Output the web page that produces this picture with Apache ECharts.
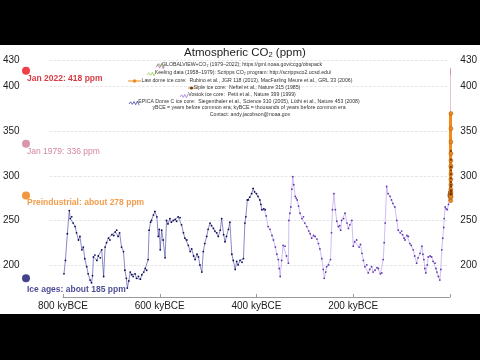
<!DOCTYPE html>
<html><head><meta charset="utf-8">
<script src="https://cdn.jsdelivr.net/npm/echarts@6/dist/echarts.min.js"></script>
<style>html,body{margin:0;padding:0;background:#fff}#c{width:480px;height:360px}</style>
</head><body><div id="c"></div>
<script>
// ---- tick labels ----
const yTicks = [200, 250, 300, 350, 400, 430];
const xTicks = [800, 600, 400, 200, 0];
const xTickLabels = [800, 600, 400, 200];

// ---- EPICA Dome C (kyBCE, ppm) ----
const epicaKy = [798,795,791,787,785,782,779,775,772,768,765,761,758,755,751,748,744,741,739,737,734,730,727,723,720,716,713,710,706,703,699,695,692,689,686,683,679,675,672,669,667,664,661,658,655,651,648,644,640,637,633,630,627,624,622,619,617,613,610,606,603,601,599,596,593,589,586,583,579,576,572,568,565,562,558,555,551,548,544,541,537,534,530,527,523,520,517,513,510,507,503,500,496,493,489,486,482,479,475,472,468,465,462,458,455,451,448,444,441,438,434,430,427,424,422,419,417,414,410,407,404,400,397,393,391,389,385,382];
const epicaPpm = [190,205,235,261,252,254,247,243,236,228,232,217,220,207,198,190,183,180,188,209,211,205,210,208,217,187,220,225,230,228,234,233,237,239,232,236,220,215,194,185,174,182,192,189,187,190,185,187,184,189,192,196,194,206,239,248,250,256,260,254,232,240,217,239,228,208,250,246,252,248,250,251,249,254,253,245,236,230,228,222,215,218,210,206,212,209,200,192,215,224,232,240,247,244,241,238,236,232,239,252,234,226,232,240,248,212,205,195,204,200,205,203,207,247,254,273,273,276,280,286,282,280,277,273,268,262,263,262];

// ---- Vostok (kyBCE, ppm) ----
const vostokKy = [384,380,376,372,368,365,361,358,355,353,351,348,345,341,338,334,333,331,329,327,325,323,320,318,316,313,310,306,303,300,296,292,289,286,282,279,275,272,269,265,262,260,257,255,251,247,245,243,240,237,234,231,228,226,224,220,217,213,210,207,203,200,197,193,188,185,182,179,176,172,169,166,162,159,155,151,148,144,141,138,136,134,131,128,124,121,118,114,110,107,103,100,98,95,93,89,86,83,80,76,73,69,66,62,58,56,54,52,50,47,45,41,38,35,31,29,27,24,21,19,17,15,13,12,10,8,5.5,3,1.4];
const vostokPpm = [262,255,243,240,233,228,220,212,206,196,187,205,222,221,210,202,250,258,265,285,299,290,277,275,273,266,258,252,254,247,243,238,235,230,233,232,229,224,218,207,195,185,192,198,200,206,236,262,280,262,249,243,244,239,250,252,258,247,241,245,250,221,226,228,220,223,213,205,198,200,191,195,198,192,194,197,196,190,191,206,225,247,288,280,277,273,269,265,250,239,236,238,234,230,228,233,232,224,222,217,210,202,208,213,221,212,206,196,191,200,209,210,209,204,202,196,192,187,183,195,217,230,242,252,265,263,262,268,273];

// ---- Law Dome ice core (year CE, ppm) ----
const lawYear = [0,100,200,300,400,500,600,700,800,900,1000,1100,1200,1300,1400,1500,1550,1610,1650,1700,1750,1800,1850,1880,1900,1920,1940,1950,1960,1970,1980,1990,2000];
const lawPpm  = [277,278,278,277,279,280,279,280,279,280,280,281,282,281,279,281,279,272,277,276,277,282,285,290,296,302,310,311,317,325,338,353,370];

// ---- Siple ice core (year CE, ppm) ----
const sipleYear = [1744,1770,1800,1830,1850,1870,1890,1900,1920,1935,1950,1965,1973];
const siplePpm  = [279,280,282,284,288,290,293,297,302,306,310,318,328];

// ---- Keeling (1958-1979) and GLOBALVIEW (1979-2022) (year CE, ppm) ----
const keelingYear = [1958,1960,1965,1970,1975,1979];
const keelingPpm  = [315,317,320,325.5,331,337];
const gvYear = [1979,1985,1990,1995,2000,2005,2010,2015,2020,2021.4,2021.8,2022];
const gvPpm  = [336,346,354,361,369,379,389,400,412,421,413,418];

// ---- annotations ----
const annotLabels = ['Jan 2022: 418 ppm', 'Jan 1979: 336 ppm', 'Preindustrial: about 278 ppm', 'Ice ages: about 185 ppm'];
const annotValues = [418, 336, 278, 185];
const annotDotColors  = ['#e8101a', '#cf7a9c', '#f07d0c', '#141470'];
const annotTextColors = ['#cc0a14', '#c8668e', '#ef8420', '#1a1a7a'];

// ---- legend texts ----
const legendLines = [
  'GLOBALVIEW+CO\u2082 (1979\u20132022); https://gml.noaa.gov/ccgg/obspack',
  'Keeling data (1958\u20131979): Scripps CO\u2082 program: http://scrippsco2.ucsd.edu/',
  'Law dome ice core:  Rubino et al., JGR 118 (2013), MacFarling Meure et al., GRL 33 (2006)',
  'Siple ice core:  Neftel et al., Nature 315 (1985)',
  'Vostok ice core:  Petit et al., Nature 399 (1999)',
  'EPICA Dome C ice core:  Siegenthaler et al., Science 310 (2005), L\u00fcthi et al., Nature 453 (2008)',
  'yBCE = years before common era; kyBCE = thousands of years before common era',
  'Contact: andy.jacobson@noaa.gov'
];

const FONT = '"Liberation Sans", Arial, Helvetica, sans-serif';
const zip = (a, b) => a.map((v, i) => [v, b[i]]);
const ceToKy = y => -y / 1000;

const chart = echarts.init(document.getElementById('c'), null, {renderer: 'canvas'});

const legendY = [65, 73, 81, 88, 95, 102, 108, 115];
const legendCX = [242, 243, 247, 247, 242, 249, 249, 250];
const graphics = [];
legendLines.forEach((t, i) => {
  graphics.push({type: 'text', z: 50, style: {text: t, x: legendCX[i], y: legendY[i], fill: '#333', fontSize: 5.2, fontFamily: FONT, align: 'center', verticalAlign: 'middle', textAlign: 'center', textVerticalAlign: 'middle'}});
});
function zig(x0, y0, w, h, color, n) {
  const pts = [];
  for (let k = 0; k <= n; k++) pts.push([x0 + w * k / n, y0 + (k % 2 ? -h : h) * (0.5 + 0.5 * (k / n))]);
  return {type: 'polyline', z: 50, shape: {points: pts}, style: {stroke: color, lineWidth: 0.7, fill: null}};
}
graphics.push(zig(156, 66, 9, 3, '#c45ac8', 5));
graphics.push(zig(157, 65, 7, 2.5, '#6fbf3f', 4));
graphics.push(zig(147, 74, 9, 2, '#8ac23c', 5));
graphics.push({type: 'line', z: 50, shape: {x1: 128, y1: 81, x2: 141, y2: 81}, style: {stroke: '#f08a1a', lineWidth: 1}});
graphics.push({type: 'circle', z: 51, shape: {cx: 134.5, cy: 81, r: 1.8}, style: {fill: '#f08a1a'}});
graphics.push({type: 'line', z: 50, shape: {x1: 188, y1: 88, x2: 195, y2: 88}, style: {stroke: '#c07020', lineWidth: 0.8}});
graphics.push({type: 'circle', z: 51, shape: {cx: 191.5, cy: 88, r: 1.6}, style: {fill: '#7a4010'}});
graphics.push(zig(180, 96, 8, 2, '#9a6ad8', 5));
graphics.push(zig(129, 103, 10, 2, '#2a2a90', 6));
graphics.push({type: 'rect', z: 100, shape: {x: 0, y: 0, width: 480, height: 45}, style: {fill: '#000'}});
graphics.push({type: 'rect', z: 100, shape: {x: 0, y: 314, width: 480, height: 46}, style: {fill: '#000'}});

const Y0 = 164, Y1 = 430;

chart.setOption({
  animation: false,
  backgroundColor: '#fff',
  title: {
    text: '{n|Atmospheric CO}{s|2}{n| (ppm)}',
    left: 245, top: 45, textAlign: 'center', padding: 0,
    textStyle: {fontSize: 11.5, fontWeight: 'normal', color: '#222', fontFamily: FONT,
      rich: {
        n: {fontSize: 11.5, lineHeight: 14, verticalAlign: 'bottom', color: '#222', fontFamily: FONT},
        s: {fontSize: 7.5, lineHeight: 8, verticalAlign: 'bottom', color: '#222', fontFamily: FONT}
      }}
  },
  graphic: graphics,
  grid: [
    {left: 63, right: 30, top: 60, bottom: 63},
    {left: 48, right: 30, top: 60, bottom: 63},
    {left: 21, width: 10, top: 60, bottom: 63}
  ],
  xAxis: [
    {gridIndex: 0, type: 'value', inverse: true, min: 0, max: 800,
      axisLine: {show: true, lineStyle: {color: '#9a9a9a', width: 1}},
      axisTick: {show: true, customValues: xTicks, inside: true, length: 3, lineStyle: {color: '#9a9a9a'}},
      axisLabel: {customValues: xTickLabels, formatter: v => v + ' kyBCE', color: '#222', fontSize: 10, fontFamily: FONT, margin: 4},
      splitLine: {show: false}},
    {gridIndex: 1, type: 'value', min: 0, max: 1, show: false},
    {gridIndex: 2, type: 'value', min: 0, max: 1, show: false}
  ],
  yAxis: [
    {gridIndex: 0, type: 'value', min: Y0, max: Y1, show: false},
    {gridIndex: 1, type: 'value', position: 'left', min: Y0, max: Y1,
      axisLine: {show: false}, axisTick: {show: false, customValues: yTicks},
      axisLabel: {customValues: yTicks, color: '#222', fontSize: 10, fontFamily: FONT, margin: 30},
      splitLine: {show: true, lineStyle: {color: '#dcdcdc', type: 'dashed', width: 0.7}}},
    {gridIndex: 1, type: 'value', position: 'right', min: Y0, max: Y1,
      axisLine: {show: false}, axisTick: {show: false, customValues: yTicks},
      axisLabel: {customValues: yTicks, color: '#222', fontSize: 10, fontFamily: FONT, margin: 12},
      splitLine: {show: false}},
    {gridIndex: 2, type: 'value', min: Y0, max: Y1, show: false}
  ],
  series: [
    {name: 'EPICA', type: 'line', xAxisIndex: 0, yAxisIndex: 0, data: zip(epicaKy, epicaPpm),
      lineStyle: {color: '#3a3aa0', width: 0.6}, symbol: 'circle', symbolSize: 1.8, showSymbol: true,
      itemStyle: {color: '#0c0c55'}, clip: false, z: 3},
    {name: 'Vostok', type: 'line', xAxisIndex: 0, yAxisIndex: 0, data: zip(vostokKy, vostokPpm),
      lineStyle: {color: '#b090ea', width: 0.6}, symbol: 'circle', symbolSize: 1.8, showSymbol: true,
      itemStyle: {color: '#6236ad'}, clip: false, z: 4},
    {name: 'Law Dome', type: 'line', xAxisIndex: 0, yAxisIndex: 0, data: zip(lawYear.map(ceToKy), lawPpm),
      lineStyle: {color: '#f08a1a', width: 4}, symbol: 'circle', symbolSize: 4, showSymbol: true,
      itemStyle: {color: '#f08a1a', borderColor: '#8a4a12', borderWidth: 0.4}, clip: false, z: 5},
    {name: 'Siple', type: 'scatter', xAxisIndex: 0, yAxisIndex: 0, data: zip(sipleYear.map(ceToKy), siplePpm),
      symbol: 'circle', symbolSize: 2.2, itemStyle: {color: '#5a2a08'}, clip: false, z: 6},
    {name: 'Keeling', type: 'line', xAxisIndex: 0, yAxisIndex: 0, data: zip(keelingYear.map(ceToKy), keelingPpm),
      lineStyle: {color: '#a8c850', width: 0.8}, showSymbol: false, clip: false, z: 4},
    {name: 'GLOBALVIEW', type: 'line', xAxisIndex: 0, yAxisIndex: 0, data: zip(gvYear.map(ceToKy), gvPpm),
      lineStyle: {color: '#cf7e9c', width: 0.9}, showSymbol: false, clip: false, z: 4},
    {name: 'annotations', type: 'scatter', xAxisIndex: 2, yAxisIndex: 3, clip: false, z: 9,
      symbol: 'circle', symbolSize: 8,
      data: annotValues.map((v, i) => ({
        value: [0.5, v],
        itemStyle: {color: annotDotColors[i]},
        label: {show: true, formatter: annotLabels[i], position: [5, i === 3 ? 11 : 7],
          align: 'left', verticalAlign: 'top', color: annotTextColors[i], fontSize: 8.5,
          fontWeight: i === 1 ? 'normal' : 'bold', fontFamily: FONT}
      }))}
  ]
});
</script>
</body></html>
